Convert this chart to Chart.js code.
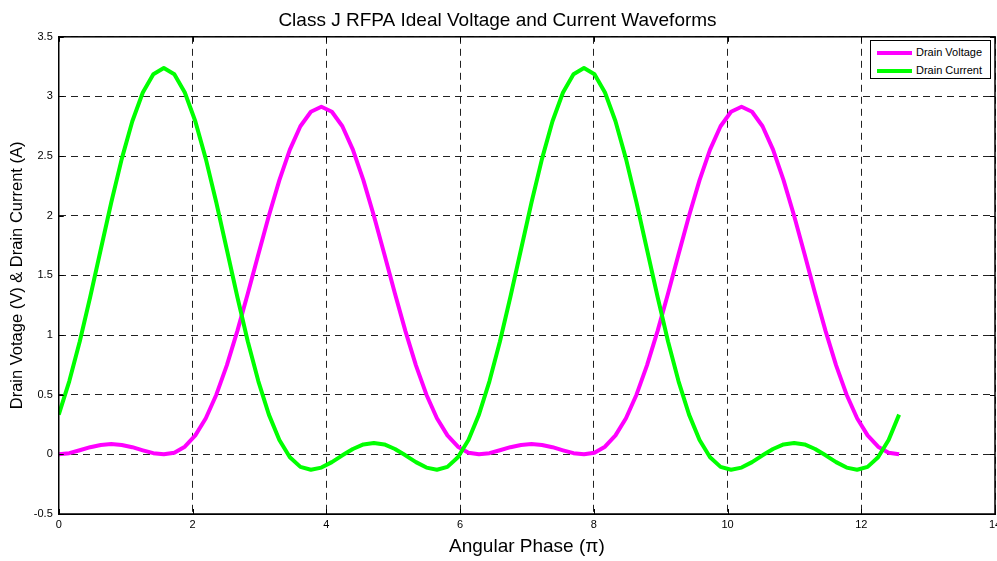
<!DOCTYPE html>
<html>
<head>
<meta charset="utf-8">
<script src="https://cdn.jsdelivr.net/npm/chart.js@4.4.1/dist/chart.umd.min.js"></script>
<style>
  html, body { margin: 0; padding: 0; background: #fff; overflow: hidden; }
  .wrap { position: relative; width: 997px; height: 561px; }
  .legend {
    position: absolute; left: 870px; top: 40px; width: 119px; height: 37px;
    border: 1px solid #000; background: #fff;
    font-family: "Liberation Sans", Arial, sans-serif; font-size: 11px; color: #000;
  }
  .legend .row { position: absolute; left: 6px; height: 14px; line-height: 14px; white-space: nowrap; }
  .legend .swatch { display: inline-block; width: 35px; height: 4px; vertical-align: middle; margin-right: 4px; }
</style>
</head>
<body>
<div class="wrap">
  <canvas id="chart"></canvas>
  <div class="legend" id="legend"></div>
</div>
<script>
// angular phase samples (x axis), step of pi/20 over two periods
const phase = [
  0, 0.157, 0.314, 0.471, 0.628, 0.785, 0.942, 1.100, 1.257, 1.414,
  1.571, 1.728, 1.885, 2.042, 2.199, 2.356, 2.513, 2.670, 2.827, 2.985,
  3.142, 3.299, 3.456, 3.613, 3.770, 3.927, 4.084, 4.241, 4.398, 4.555,
  4.712, 4.869, 5.027, 5.184, 5.341, 5.498, 5.655, 5.812, 5.969, 6.126,
  6.283, 6.440, 6.597, 6.754, 6.912, 7.069, 7.226, 7.383, 7.540, 7.697,
  7.854, 8.011, 8.168, 8.325, 8.482, 8.639, 8.796, 8.954, 9.111, 9.268,
  9.425, 9.582, 9.739, 9.896, 10.053, 10.210, 10.367, 10.524, 10.681, 10.838,
  10.996, 11.153, 11.310, 11.467, 11.624, 11.781, 11.938, 12.095, 12.252, 12.409,
  12.566
];

const drainVoltage = [
  0, 0.010, 0.034, 0.060, 0.079, 0.086, 0.079, 0.060, 0.034, 0.010,
  0, 0.014, 0.064, 0.159, 0.303, 0.500, 0.746, 1.033, 1.348, 1.677,
  2.000, 2.299, 2.554, 2.750, 2.872, 2.914, 2.872, 2.750, 2.554, 2.299,
  2.000, 1.677, 1.348, 1.033, 0.746, 0.500, 0.303, 0.159, 0.064, 0.014,
  0, 0.010, 0.034, 0.060, 0.079, 0.086, 0.079, 0.060, 0.034, 0.010,
  0, 0.014, 0.064, 0.159, 0.303, 0.500, 0.746, 1.033, 1.348, 1.677,
  2.000, 2.299, 2.554, 2.750, 2.872, 2.914, 2.872, 2.750, 2.554, 2.299,
  2.000, 1.677, 1.348, 1.033, 0.746, 0.500, 0.303, 0.159, 0.064, 0.014,
  0
];

const drainCurrent = [
  0.333, 0.612, 0.946, 1.321, 1.717, 2.111, 2.477, 2.792, 3.033, 3.186,
  3.238, 3.186, 3.033, 2.792, 2.477, 2.111, 1.717, 1.321, 0.946, 0.612,
  0.333, 0.120, -0.025, -0.105, -0.129, -0.111, -0.065, -0.008, 0.045, 0.083,
  0.096, 0.083, 0.045, -0.008, -0.065, -0.111, -0.129, -0.105, -0.025, 0.120,
  0.333, 0.612, 0.946, 1.321, 1.717, 2.111, 2.477, 2.792, 3.033, 3.186,
  3.238, 3.186, 3.033, 2.792, 2.477, 2.111, 1.717, 1.321, 0.946, 0.612,
  0.333, 0.120, -0.025, -0.105, -0.129, -0.111, -0.065, -0.008, 0.045, 0.083,
  0.096, 0.083, 0.045, -0.008, -0.065, -0.111, -0.129, -0.105, -0.025, 0.120,
  0.333
];

const seriesLabels = ['Drain Voltage', 'Drain Current'];
const seriesColors = ['#ff00ff', '#00ff00'];

const FONT = '"Liberation Sans", Arial, sans-serif';

// MATLAB style box with inward tick marks
const framePlugin = {
  id: 'frame',
  afterDraw(chart) {
    const { ctx, chartArea: a, scales } = chart;
    ctx.save();
    ctx.strokeStyle = '#000';
    ctx.lineWidth = 1;
    ctx.setLineDash([]);
    ctx.beginPath();
    scales.x.ticks.forEach((t) => {
      const px = Math.round(scales.x.getPixelForValue(t.value)) + 0.5;
      ctx.moveTo(px, a.bottom); ctx.lineTo(px, a.bottom - 5);
      ctx.moveTo(px, a.top); ctx.lineTo(px, a.top + 5);
    });
    scales.y.ticks.forEach((t) => {
      const py = Math.round(scales.y.getPixelForValue(t.value)) + 0.5;
      ctx.moveTo(a.left, py); ctx.lineTo(a.left + 5, py);
      ctx.moveTo(a.right, py); ctx.lineTo(a.right - 5, py);
    });
    ctx.stroke();
    ctx.lineWidth = 1.5;
    ctx.strokeRect(a.left, a.top, a.right - a.left, a.bottom - a.top);
    ctx.restore();
  }
};

const canvas = document.getElementById('chart');
canvas.width = 997;
canvas.height = 561;

new Chart(canvas, {
  type: 'line',
  data: {
    datasets: [
      {
        label: seriesLabels[0],
        data: phase.map((x, i) => ({ x, y: drainVoltage[i] })),
        borderColor: seriesColors[0],
        borderWidth: 4,
        pointRadius: 0,
        tension: 0,
        fill: false,
        borderJoinStyle: 'round',
        order: 1
      },
      {
        label: seriesLabels[1],
        data: phase.map((x, i) => ({ x, y: drainCurrent[i] })),
        borderColor: seriesColors[1],
        borderWidth: 4,
        pointRadius: 0,
        tension: 0,
        fill: false,
        borderJoinStyle: 'round',
        order: 0
      }
    ]
  },
  options: {
    responsive: false,
    animation: false,
    layout: { padding: { left: 0, right: 2, top: 0, bottom: 0 } },
    plugins: {
      legend: { display: false },
      tooltip: { enabled: false },
      title: {
        display: true,
        text: 'Class J RFPA Ideal Voltage and Current Waveforms',
        color: '#000',
        font: { family: FONT, size: 19, weight: 'normal' },
        padding: { top: 9.5, bottom: 4.5 }
      }
    },
    scales: {
      x: {
        type: 'linear',
        min: 0,
        max: 14,
        afterFit: (s) => { s.paddingRight = 0; },
        ticks: { stepSize: 2, color: '#000', padding: 4, font: { family: FONT, size: 11 } },
        grid: { color: '#222', lineWidth: 1, drawTicks: false },
        border: { color: '#000', width: 1, dash: [7, 5] },
        title: {
          display: true,
          text: 'Angular Phase (π)',
          color: '#000',
          font: { family: FONT, size: 19, weight: 'normal' },
          padding: { top: 0, bottom: 3 }
        }
      },
      y: {
        min: -0.5,
        max: 3.5,
        ticks: {
          stepSize: 0.5,
          color: '#000',
          padding: 6,
          font: { family: FONT, size: 11 },
          callback: (v) => String(Number(v.toFixed(1)))
        },
        grid: { color: '#222', lineWidth: 1, drawTicks: false },
        border: { color: '#000', width: 1, dash: [7, 5] },
        title: {
          display: true,
          text: 'Drain Votage (V) & Drain Current (A)',
          color: '#000',
          font: { family: FONT, size: 16.5, weight: 'normal' },
          padding: { top: 8, bottom: 0 }
        }
      }
    }
  },
  plugins: [framePlugin]
});

// legend box inside the plot, top right
const legendEl = document.getElementById('legend');
legendEl.innerHTML = seriesLabels.map((label, i) => `
  <div class="row" style="top: ${4 + i * 17.6}px;">
    <span class="swatch" style="background: ${seriesColors[i]};"></span>${label}
  </div>
`).join('');
</script>
</body>
</html>
